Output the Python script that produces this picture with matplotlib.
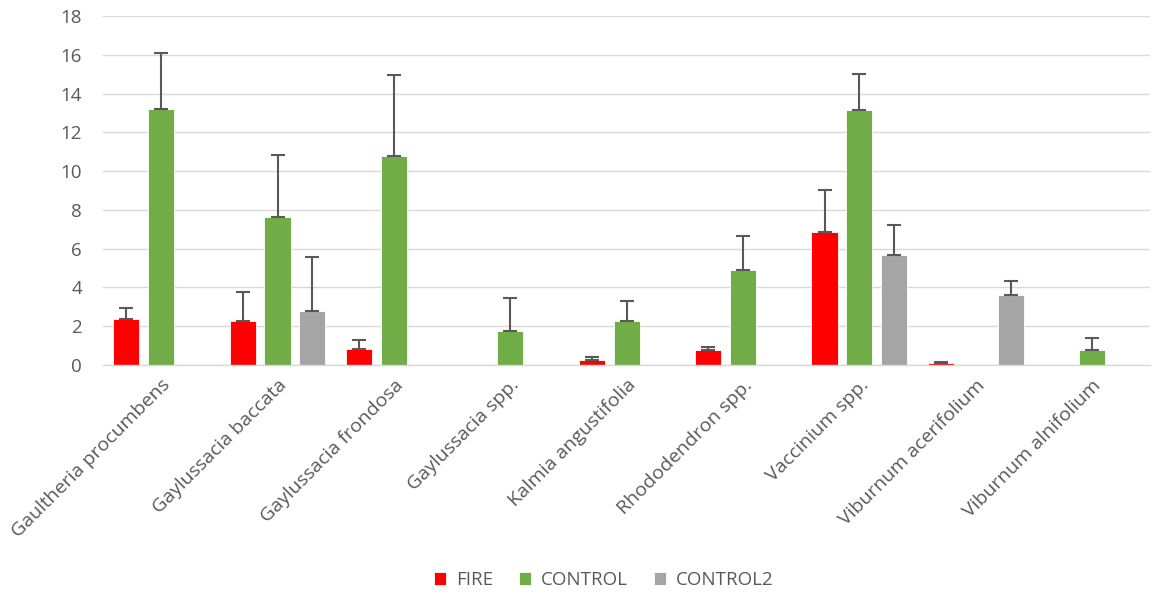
import numpy as np
import matplotlib.pyplot as plt

categorias = ["Gaultheria procumbens", "Gaylussacia baccata", "Gaylussacia frondosa",
              "Gaylussacia spp.", "Kalmia angustifolia", "Rhododendron spp.",
              "Vaccinium spp.", "Viburnum acerifolium", "Viburnum alnifolium"]

fire = [2.38, 2.28, 0.85, np.nan, 0.25, 0.75, 6.88, 0.08, np.nan]
fire_err = [0.55, 1.5, 0.45, np.nan, 0.15, 0.2, 2.17, 0.07, np.nan]

control = [13.2, 7.62, 10.78, 1.75, 2.28, 4.9, 13.15, np.nan, 0.8]
control_err = [2.9, 3.23, 4.17, 1.73, 1.02, 1.75, 1.85, np.nan, 0.6]

control2 = [np.nan, 2.77, np.nan, np.nan, np.nan, np.nan, 5.7, 3.63, np.nan]
control2_err = [np.nan, 2.78, np.nan, np.nan, np.nan, np.nan, 1.5, 0.72, np.nan]

plt.rcParams['font.family'] = ['Open Sans', 'DejaVu Sans']

fig = plt.figure(figsize=(11.62, 5.94), dpi=100)
ax = fig.add_axes([0.0886, 0.3855, 0.9014, 0.5875])

x = np.arange(len(categorias))
largura = 0.224
passo = 0.30

series = [
    (fire, fire_err, "#FF0000", "FIRE"),
    (control, control_err, "#70AD47", "CONTROL"),
    (control2, control2_err, "#A5A5A5", "CONTROL2"),
]

for i, (vals, errs, cor, nome) in enumerate(series):
    pos = x + (i - 1) * passo
    ax.bar(pos, vals, largura, color=cor, edgecolor="white", linewidth=0.6,
           label=nome, zorder=2)
    ax.errorbar(pos, vals, yerr=[np.zeros(len(errs)), errs], fmt="none",
                ecolor="#595959", elinewidth=1.5, capsize=5, capthick=1.5,
                zorder=3)

ax.set_xlim(-0.5, len(categorias) - 0.5)
ax.set_ylim(0, 18)
ax.set_yticks(range(0, 19, 2))
ax.yaxis.grid(True, color="#D9D9D9", linewidth=1)
ax.set_axisbelow(True)

for s in ["top", "right", "left"]:
    ax.spines[s].set_visible(False)
ax.spines["bottom"].set_color("#D9D9D9")
ax.spines["bottom"].set_linewidth(1)

ax.tick_params(axis="y", length=0, pad=15, labelsize=13.5, labelcolor="#595959")
ax.tick_params(axis="x", length=0, pad=8, labelsize=14, labelcolor="#595959")
ax.set_xticks(x)
ax.set_xticklabels(categorias, rotation=45, ha="right", rotation_mode="anchor")

ax.legend(loc="center", bbox_to_anchor=(0.478, -0.616), ncol=3,
          frameon=False, fontsize=13.5, handlelength=0.65, handleheight=0.65,
          columnspacing=1.4, handletextpad=0.5, labelcolor="#595959",
          bbox_transform=ax.transAxes)

fig.savefig("out.png", dpi=100)
